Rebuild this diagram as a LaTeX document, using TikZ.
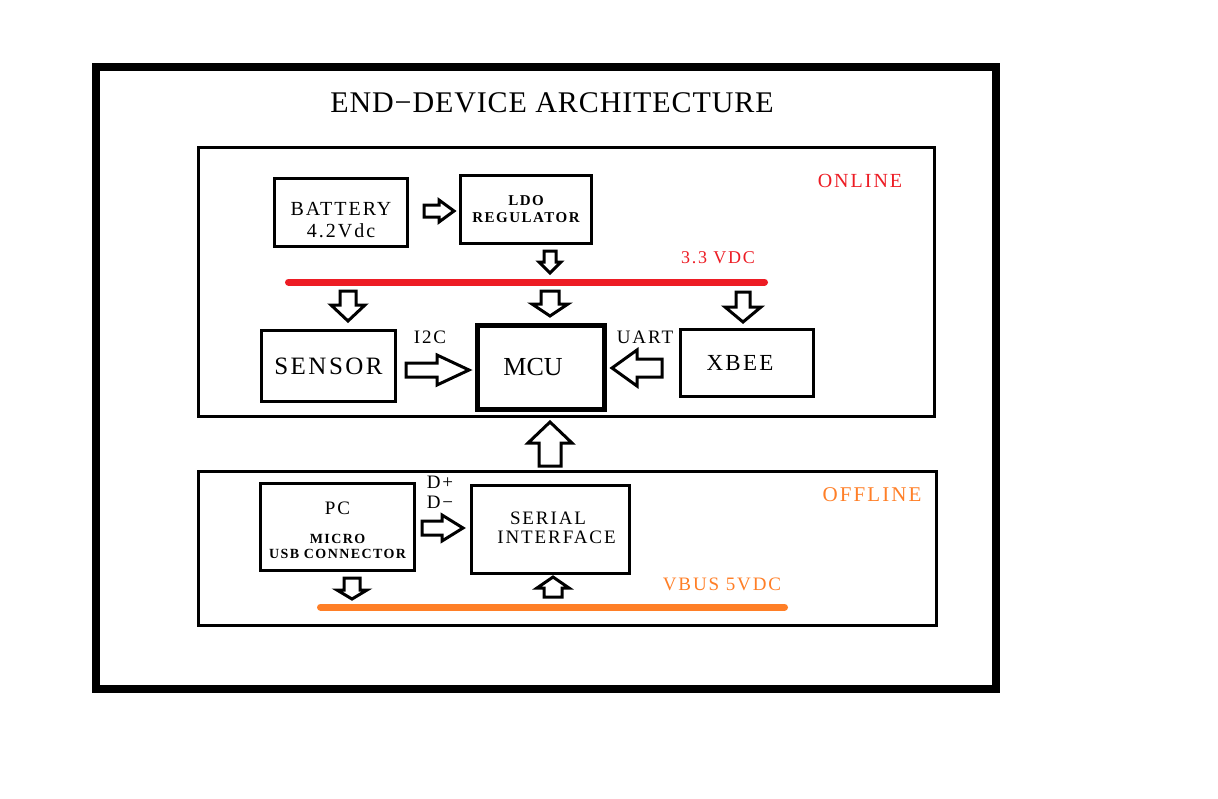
\documentclass[tikz,border=0pt]{standalone}
\usepackage{fontspec}
\setmainfont[LetterSpace=10]{Liberation Serif}
\newfontfamily\plainserif{Liberation Serif}
\newfontfamily\titleserif[LetterSpace=3]{Liberation Serif}
\definecolor{pred}{HTML}{ED1C24}
\definecolor{porange}{HTML}{FF7F27}
\newcommand{\fs}[1]{\fontsize{#1}{#1}\selectfont}
\tikzset{
  box/.style={draw, line width=3pt, rectangle, inner sep=0pt, align=center},
  barrow/.style={draw, line width=3pt, fill=white, line join=miter},
  lbl/.style={inner sep=0pt, font=\fs{18}},
}
% horizontal block arrow: x-tail, y, x-tip, shaft half, head half, head-base x
\newcommand{\harr}[6]{\draw[barrow] (#1,#2-#4) -- (#6,#2-#4) -- (#6,#2-#5) -- (#3,#2) -- (#6,#2+#5) -- (#6,#2+#4) -- (#1,#2+#4) -- cycle;}
% vertical block arrow: x, y-tail, y-tip, shaft half, head half, head-base y
\newcommand{\varr}[6]{\draw[barrow] (#1-#4,#2) -- (#1-#4,#6) -- (#1-#5,#6) -- (#1,#3) -- (#1+#5,#6) -- (#1+#4,#6) -- (#1+#4,#2) -- cycle;}
\begin{document}
\begin{tikzpicture}[x=1pt,y=-1pt]
\useasboundingbox (0,0) rectangle (1218,798);
\fill[white] (0,0) rectangle (1218,798);
% outer frame
\draw[line width=8pt] (96,67) rectangle (996,689);
\node[inner sep=0pt, font=\titleserif\fs{30}] (title) at (552,103) {END\textminus DEVICE ARCHITECTURE};
% sections
\draw[line width=3pt] (198.5,147.5) rectangle (934.5,416.5);
\draw[line width=3pt] (198.5,471.5) rectangle (936.5,625.5);
\node[lbl, text=pred, font=\fs{20}] (online) at (860,181) {ONLINE};
\node[lbl, text=porange, font=\fs{21}] (offline) at (872,495) {OFFLINE};
% boxes
\node[box, minimum width=133pt, minimum height=68pt,
      label={[font=\fs{20}, align=center, yshift=-8pt]center:BATTERY\\[2pt]4.2Vdc}] (bat) at (341,212.5) {};
\node[box, minimum width=131pt, minimum height=68pt, font=\bfseries\fs{15}] (ldo) at (526,209.5) {LDO\\[2pt]REGULATOR};
\node[box, minimum width=134pt, minimum height=71pt, font=\fs{25}] (sensor) at (328.5,366) {SENSOR};
\node[box, line width=5pt, minimum width=127pt, minimum height=84pt, font=\plainserif\fs{26}] (mcu) at (541,367.5) {MCU\hspace*{16pt}};
\node[box, minimum width=133pt, minimum height=67pt, font=\fs{23}] (xbee) at (747,363) {XBEE\hspace*{14pt}};
\node[box, minimum width=154pt, minimum height=87pt,
      label={[align=center, yshift=-3pt]center:{\fs{19}PC}\\[17pt]{\bfseries\fs{14}MICRO}\\[3pt]{\bfseries\fs{14}USB CONNECTOR}}] (pc) at (337.5,527) {};
\node[box, minimum width=158pt, minimum height=88pt,
      label={[font=\fs{19}, align=center, xshift=6pt, yshift=2pt]center:SERIAL\hspace*{17pt}\\[0pt]INTERFACE}] (serial) at (550.5,529.5) {};
% rails
\coordinate (r1) at (288.5,282);
\coordinate (r2) at (764.5,282);
\draw[pred, line width=7pt, line cap=round] (r1) -- (r2);
\node[lbl, text=pred] (v33) at (718,258) {3.3 VDC};
\coordinate (o1) at (320.5,607);
\coordinate (o2) at (784.5,607);
\draw[porange, line width=7pt, line cap=round] (o1) -- (o2);
\node[lbl, text=porange, font=\fs{19}] (vbus) at (722,584) {VBUS 5VDC};
% labels
\node[lbl, font=\fs{19}] (i2c) at (430,337) {I2C};
\node[lbl, font=\fs{19}] (uart) at (645,337) {UART};
\node[lbl, font=\fs{19}] (dp) at (440,482) {D+};
\node[lbl, font=\fs{19}] (dm) at (440,502) {D\textminus};
% block arrows
\harr{424}{211}{454}{6}{11}{439}
\varr{550}{251}{273}{6}{11}{262}
\varr{348}{291}{321}{8}{17}{305}
\varr{550}{291}{316}{9}{18}{304}
\varr{743}{292}{322}{7}{18}{307}
\harr{406}{370}{469}{7}{15}{437}
\harr{662}{368}{612}{9}{18}{637}
\varr{550}{466}{422}{11}{22}{443}
\harr{422}{528}{463}{7}{13}{442}
\varr{352}{578}{599}{8}{15}{590}
\varr{553}{597}{577}{9}{16}{588}
\end{tikzpicture}
\end{document}
